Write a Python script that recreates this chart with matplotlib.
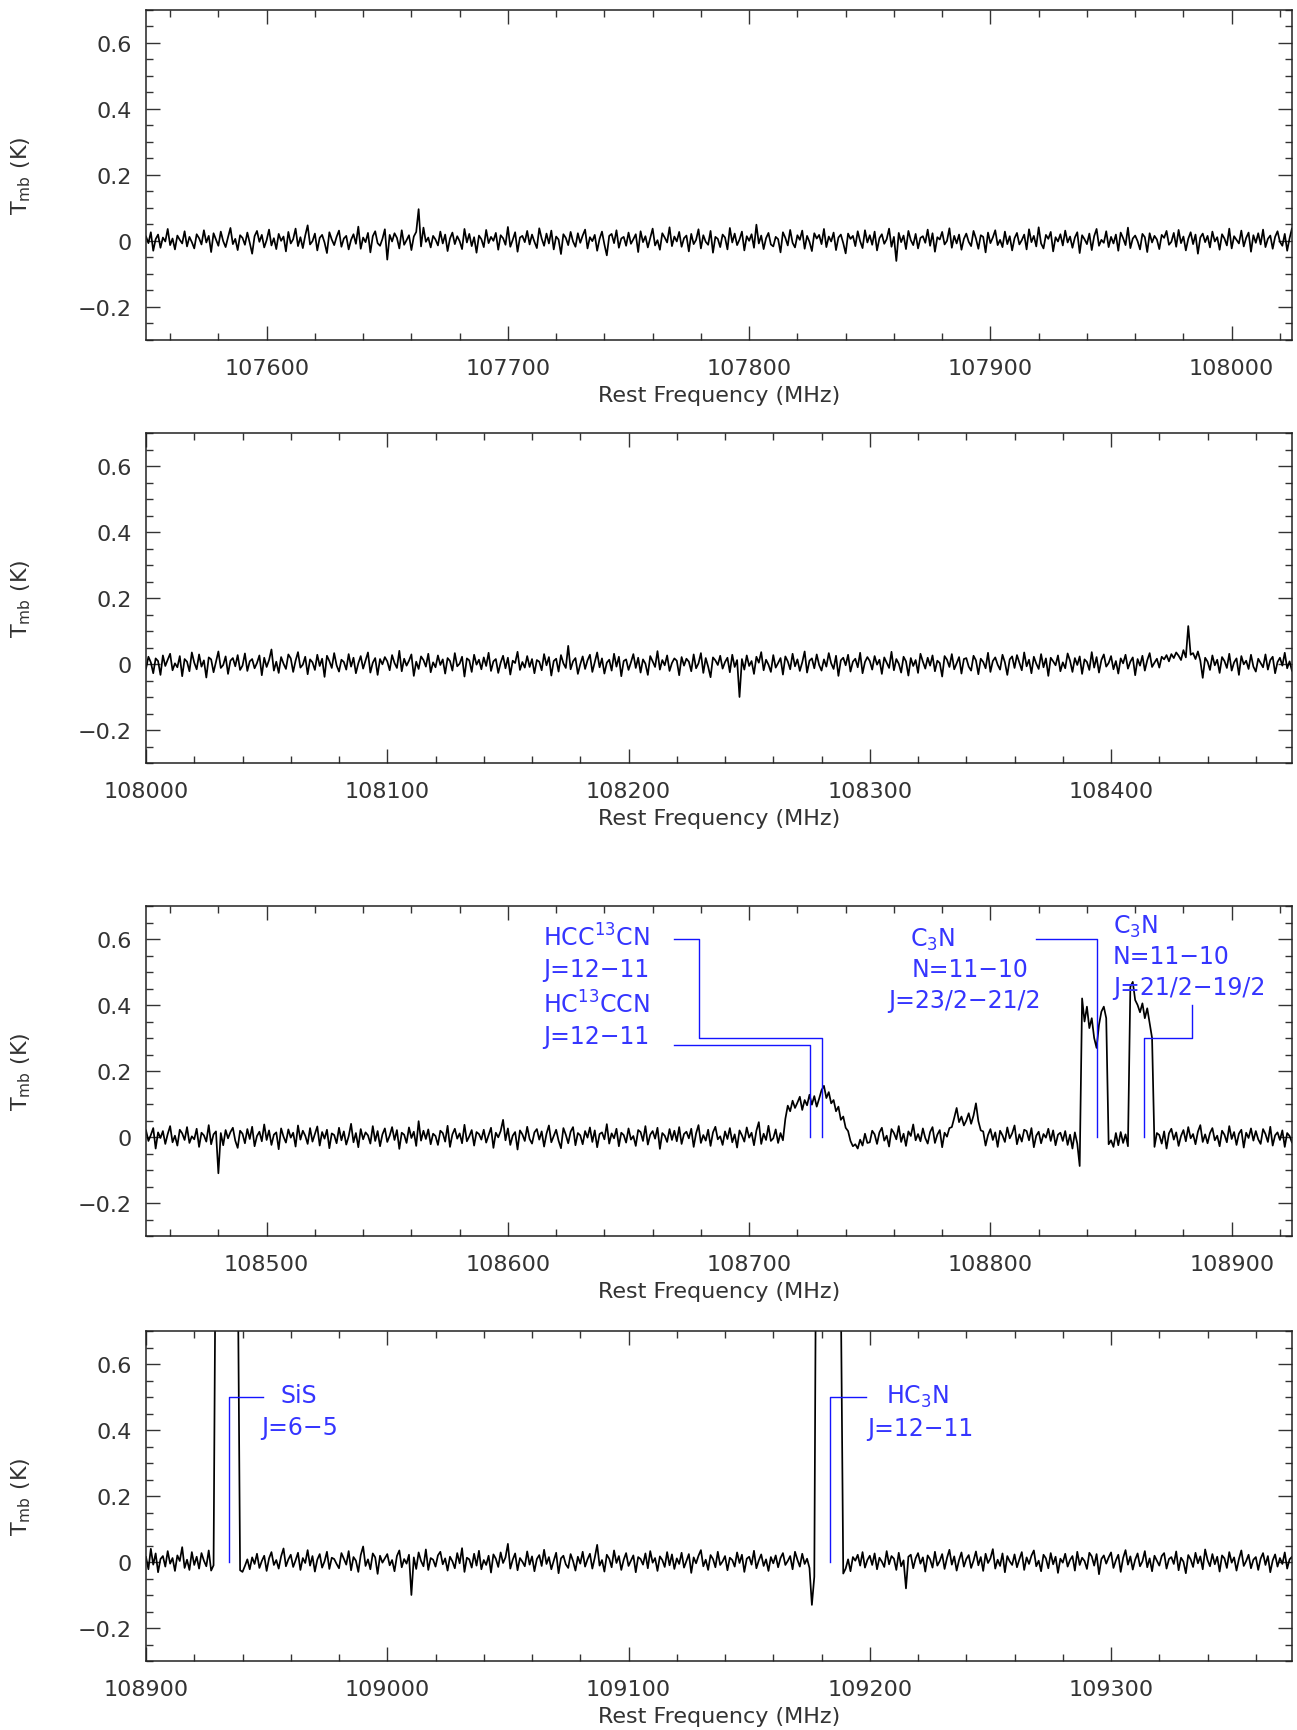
import numpy as np
import matplotlib
matplotlib.use('Agg')
import matplotlib.pyplot as plt
from matplotlib.ticker import MultipleLocator, FuncFormatter

# spectra in mK, one value per 1 MHz channel, starting at the left edge of each panel
start_freqs = [107550, 108000, 108450, 108900]

tmb_1 = [
    12, -8, 25, -31, 4, 18, -22, 9, -3, 35, -14, 6, -27, 15, 2, -9, 28, -18, 11, -5,
    -24, 19, 7, -12, 31, -6, 14, -35, 22, 3, -16, 27, -2, -20, 10, 38, -11, 5, -29, 16,
    8, -13, 24, -7, -40, 13, 29, -4, 17, -21, 1, 33, -15, 7, -26, 20, -1, 12, -33, 26,
    -9, 4, 36, -17, 10, -23, 15, 46, -12, -2, 21, -30, 8, 17, -6, -38, 25, 3, -14, 11,
    30, -19, 6, 14, -27, 2, 19, -10, 42, -25, 9, -5, 23, -36, 13, 28, -8, -16, 5, 34,
    -58, 17, -3, 22, 8, -24, 31, -13, 1, 16, -29, 12, 26, 95, -18, 39, -4, 9, -21, 14,
    3, -15, 27, -9, 18, -32, 6, 24, -11, 13, -2, -26, 35, -6, 20, -17, 10, -37, 15, 4,
    -20, 32, -8, 11, -1, 23, -28, 16, 7, -13, 41, -19, 2, 25, -34, 9, 14, -5, 29, -12,
    18, -4, -23, 37, 6, -16, 21, -9, 30, -27, 12, 3, -41, 19, 8, -14, 26, -3, -19, 22,
    -7, 15, 33, -24, 10, -2, 17, -31, 5, 27, -12, -45, 14, 20, -8, 31, -22, 6, 11, -16,
    24, -10, 4, 19, -35, 28, -5, 13, -21, 8, 36, -15, 1, -28, 22, 9, -6, 40, -17, 12,
    -3, 26, -19, 7, 15, -33, 20, -11, 2, 34, -24, 16, -4, -13, 29, -37, 11, 5, -20, 18,
    9, -27, 38, -6, 21, -14, 3, 27, -30, 13, -1, 19, -22, 48, -9, 15, -26, 7, 23, -12,
    -18, 11, 4, -36, 25, 8, -15, 32, -7, -21, 16, 2, 30, -25, 14, -4, -32, 22, 6, 17,
    -11, 35, -20, 12, -3, 24, -29, 9, 18, -8, -39, 21, 5, 14, -17, 28, -2, -23, 31, -6,
    16, -13, 27, -30, 7, 19, -10, 4, 36, -19, 11, -62, 23, -5, 15, -26, 29, 1, -14, 20,
    -24, 8, 13, -7, 33, -16, 22, -34, 10, 3, 26, -12, -1, 37, -22, 14, -9, 18, -28, 5,
    21, -4, -17, 29, 6, -25, 16, 11, -36, 24, -8, 9, 31, -14, 2, -20, 27, -11, 13, -30,
    7, 23, -12, 1, 18, -27, 34, -5, 14, -18, 40, -9, -24, 17, 5, 26, -33, 10, -3, 19,
    -15, 30, -6, 12, -22, 9, 25, -38, 16, 4, -11, 21, -29, 13, 35, -16, 2, -7, 28, -20,
    11, -9, 18, -31, 24, 7, -14, 39, -23, 6, 15, -2, -27, 20, 10, -35, 22, -6, 14, 3,
    -26, 17, 8, 29, -13, -4, 23, -19, 32, -8, 12, -30, 5, 25, -11, 18, -40, 9, 21, -5,
    14, -21, 27, -3, 10, -28, 19, 6, -15, 36, -24, 13, 2, -9, 30, -18, 8, 24, -34, 16,
    -7, 22, -12, 33, -20, 5, 15, -25, 11, 28, -4, -16, 20, -31, 7, 37, -13, 4, -22, 10,
]

tmb_2 = [
    -14, 22, 5, -28, 17, 9, -33, 26, -6, 13, 31, -19, 2, -10, 24, -37, 15, 7, -22, 35,
    4, -16, 29, -8, 11, -41, 20, 14, -25, 6, 38, -12, -3, 23, -30, 10, 18, -7, 27, -18,
    -5, 32, -21, 8, 15, -13, 3, 26, -34, 19, -9, 12, 44, -20, 7, -27, 21, 1, -15, 29,
    17, -24, 10, 36, -11, -2, 22, -31, 14, 5, -18, 28, -6, 16, -39, 25, 9, -12, 33, -4,
    -23, 13, 6, -17, 30, -8, 19, -28, 2, 24, -14, 11, 35, -26, 4, 18, -33, 15, -1, 21,
    8, -19, 27, 3, -12, 40, -22, 16, -5, 10, 29, -36, 7, -15, 23, 12, -8, 31, -25, 5,
    -10, 26, -3, 14, -29, 18, 9, -20, 33, -7, 1, 22, -38, 17, 11, -24, 28, -2, 13, -16,
    20, -6, 34, -21, 8, 15, -27, 4, 25, -13, 19, -32, 10, 3, 37, -18, 6, -11, 24, -9,
    15, -28, 12, 7, -19, 30, -4, 21, -35, 9, 16, -23, 27, 2, -12, 55, -16, 8, 18, -30,
    -1, 23, -15, 11, 28, -24, 6, 35, -10, 17, -29, 4, 13, -20, 31, -8, 22, -37, 9, 14,
    -18, 5, 30, -12, 19, -26, 14, 1, -33, 24, 8, -9, 39, -17, 12, -4, 26, -21, 3, 17,
    10, -34, 21, -5, 16, 7, -22, 29, -13, 2, 33, -27, 18, -8, -40, 20, 11, -3, 25, -14,
    6, 19, -25, 28, -9, 12, -100, 15, -17, 26, -6, 9, -30, 22, 4, 36, -19, 13, -2, -24,
    27, -11, 3, 18, -32, 23, 8, -16, 31, -7, 14, -21, 5, 38, -26, 10, 17, -13, 29, -3,
    -20, 14, -8, 33, 2, -15, 25, -36, 11, 19, -4, 28, -23, 7, 16, -10, 34, -28, 6, 21,
    9, -17, 24, -2, 13, -30, 20, 4, -12, 37, -19, 15, 1, -26, 22, 8, -35, 18, -6, 12,
    -27, 31, 7, -14, 19, -5, 26, -22, 10, 3, -38, 24, 13, -9, 30, -16, 2, 21, -29, 15,
    18, -8, -20, 25, 11, -31, 16, 6, -13, 34, -24, 9, 20, -2, -17, 28, 5, -33, 14, 23,
    -12, 27, 4, -19, 35, -7, 13, -28, 22, 1, -15, 30, -10, 17, -36, 19, 8, -4, 26, -22,
    5, -13, 32, 10, -24, 18, -3, 23, -30, 14, 6, -18, 36, -11, 21, -26, 12, 29, -8, 3,
    24, -16, 9, -29, 17, 2, 28, -14, 7, 20, -34, 15, -5, 25, -20, 11, 33, -9, 4, 16,
    -11, 22, 14, 27, 8, 30, 18, 35, 25, 12, 42, 20, 115, 28, 33, 15, 38, 10, -42, 19,
    7, -18, 26, -4, 13, -27, 21, 9, -12, 31, -20, 5, 17, -33, 24, -1, 10, -15, 28, -8,
    -23, 16, 3, -10, 29, -17, 12, 22, -28, 6, 19, -5, 34, -13, 8, -21, 25, -6, 14, 2,
]

tmb_3 = [
    20, -12, 6, 27, -35, 14, -3, 18, -21, 9, 33, -16, 4, -26, 22, 11, -9, 30, -18, 2,
    -7, 25, -30, 13, 5, -14, 36, -22, 8, 17, -110, 12, -25, 21, -4, 15, 28, -11, -33, 19,
    10, -19, 24, -6, 31, -28, 3, 16, -13, 38, -9, 20, -24, 7, 14, -37, 26, 1, -17, 23,
    -2, 13, -29, 35, -8, 19, 4, -21, 27, -14, 9, 32, -26, 15, -5, 22, -34, 11, 6, -19,
    28, -10, 17, -23, 2, 40, -16, 12, -31, 24, -7, 14, 5, -20, 33, -12, 18, -28, 8, 26,
    -15, 4, 30, -9, 21, -36, 13, 7, -18, 29, -3, 16, -27, 48, -11, 19, -6, 23, -22, 10,
    3, -24, 19, 12, -14, 34, -30, 8, 25, -5, 11, -19, 37, -13, 2, 21, -26, 15, 9, -8,
    22, -17, 6, 28, -33, 13, -1, 18, 52, -10, 26, -24, 4, 15, -38, 20, 8, -12, 31, -6,
    -20, 14, 24, -8, 17, -29, 10, 35, -16, 3, 22, -11, -34, 27, 7, -19, 16, 30, -25, 12,
    5, -22, 18, -2, 29, -15, 20, -31, 9, 14, -7, 39, -20, 11, -4, 25, -28, 13, 6, -17,
    26, -8, 3, -27, 21, 15, -12, 33, -23, 7, 18, -5, 28, -36, 12, 4, -15, 24, -9, 19,
    -13, 30, -21, 9, 16, -4, 25, -30, 11, 36, -18, 6, -11, 22, -27, 14, 31, -7, 2, -24,
    17, -6, 27, -16, 8, -32, 20, 5, -14, 29, -2, 13, -25, 19, 45, -21, 10, -9, 34, -12,
    -4, 23, -18, 12, -10, 55, 95, 78, 110, 88, 104, 122, 82, 112, 96, 128, 98, 124, 92, 116,
    142, 155, 118, 136, 102, 112, 78, 92, 52, 62, 28, 18, -12, -28, -22, -35, -8, -26, 10, -18,
    -16, 19, 8, -21, 14, 28, -11, 4, -29, 24, 12, -7, 33, -15, 10, -27, 17, 3, 38, -10,
    9, -13, 26, -3, -20, 15, 30, -18, 7, 21, -31, 13, 1, 27, 30, 58, 88, 45, 62, 35,
    50, 72, 40, 65, 102, 48, 20, 17, -26, 6, 24, -9, 14, -30, 19, 5, -15, 29, -4, 11,
    35, -22, 8, -14, 22, 18, -10, 27, -31, 4, 16, -19, 9, -2, 25, -12, 20, -25, 7, 13,
    -12, 18, -24, 7, -35, 14, -20, -88, 420, 350, 395, 330, 360, 300, 270, 340, 380, 395, 360, -22,
    -10, -30, 12, -25, 15, -18, 8, -28, 455, 470, 415, 400, 378, 405, 360, 390, 345, 300, -30, 12,
    6, -20, 17, -35, 11, 25, -8, 14, -27, 3, 21, -13, 30, -4, 9, -22, 16, 36, -15, 8,
    -19, 12, 27, -10, 4, -28, 19, 7, -16, 33, -6, 15, -24, 10, 22, -32, 13, -3, 26, -11,
    18, -7, -21, 24, 9, -15, 31, -26, 5, 14, -9, 20, -30, 12, 3, -17, 25, -5, 11, -14,
]

tmb_4 = [
    15, -22, 40, -8, 26, -31, 9, 18, -14, 33, -5, 12, -27, 20, 3, 45, -18, 7, -24, 30,
    -9, 16, -20, 27, 4, -13, 35, -26, -10, 1150, 1850, 2300, 2550, 2650, 2600, 2450, 2150, 1650, 950, -25,
    -30, -12, 8, -22, 14, -6, 25, -18, 3, 19, -27, 11, 30, -9, 6, -20, 17, 41, -13, 8,
    22, -15, 5, 28, -24, 12, -3, 36, -11, 18, -29, 7, 24, -17, 2, 31, -21, 13, 9, -6,
    -19, 27, 10, -8, 33, -25, 15, 4, -30, 21, 47, -12, 8, -22, 26, 14, -36, 19, -2, 11,
    24, -10, 6, -28, 18, 35, -16, 9, -5, 22, -100, 14, -21, 29, 3, -13, 38, -24, 12, 7,
    -14, 20, 31, -7, 11, -26, 16, 2, -19, 27, -4, 42, -30, 13, 8, -17, 25, -11, 34, -22,
    6, -9, 19, -32, 23, 10, -15, 29, -3, 14, 55, -20, 7, 26, -25, 12, 1, -13, 32, -8,
    17, -28, 9, 21, -12, 37, -6, 15, -22, 4, 28, -34, 11, 19, -7, -18, 24, 3, -26, 16,
    -5, 31, -14, 8, 25, -20, 13, 52, -11, 6, -29, 22, 10, -16, 35, -3, 18, -24, 7, 27,
    -12, 4, 20, -31, 15, 9, -8, 26, -19, 33, -2, 12, -27, 17, 6, -15, 30, -10, 23, -21,
    11, -6, 28, -17, 3, 24, -33, 14, -4, 19, 36, -13, 7, -24, 21, 9, -16, 31, -9, 2,
    18, -25, 13, 6, -14, 29, -3, 22, -30, 10, 16, -8, 34, -19, 5, 23, -12, 8, -27, 15,
    -4, 20, -16, 12, 27, -9, 3, 18, -22, 31, 7, -14, 25, -6, 10, -18, -130, -45, 1400, 2100,
    2500, 2700, 2800, 2750, 2600, 2350, 2000, 1500, 820, -35, -20, 8, -28, 15, 4, 22, -11, 30, -17, 6,
    19, -9, 26, -22, 13, 1, -15, 33, -7, 18, 10, -24, 28, -13, 5, -80, 16, 22, -19, 11,
    27, -5, 14, -29, 20, 8, -17, 31, -11, 3, 24, -21, 12, 37, -8, 17, -26, 6, 29, -14,
    9, 21, -18, 4, 32, -10, 15, -27, 25, -3, 11, 39, -20, 7, -12, 26, -31, 18, 2, -9,
    23, -16, 8, 30, -24, 14, -6, 19, 35, -13, 4, -28, 22, 11, -19, 27, -7, 16, -33, 10,
    -2, 25, -14, 6, 18, -26, 31, -9, 13, 3, -21, 28, 17, -11, 24, -37, 9, 20, -5, 14,
    29, -18, 5, 22, -30, 12, 36, -8, 17, -23, 7, 26, -13, 2, 33, -16, 11, -28, 19, 4,
    -11, 18, 27, -20, 9, 15, -6, 32, -25, 13, 1, -34, 21, 8, -15, 28, -4, 17, -22, 38,
    6, -13, 24, -7, 16, -29, 20, 11, -18, 30, -2, 14, -26, 9, 35, -12, 3, 22, -19, 7,
    15, -24, 10, 27, -9, 18, -31, 5, 23, -14, 12, -6, 29, -20, 8, 16, -11, 25, 2, -17,
]

spectra = [tmb_1, tmb_2, tmb_3, tmb_4]

# line identifications: (text, freq, T, alignment) per panel
labels = {
    2: [('HCC$^{13}$CN', 108614.5, 0.580, 'left'),
        ('J=12−11', 108614.5, 0.487, 'left'),
        ('HC$^{13}$CCN', 108614.5, 0.378, 'left'),
        ('J=12−11', 108614.5, 0.285, 'left'),
        ('C$_3$N', 108766.6, 0.580, 'left'),
        ('N=11−10', 108767.4, 0.487, 'left'),
        ('J=23/2−21/2', 108757.5, 0.395, 'left'),
        ('C$_3$N', 108850.7, 0.620, 'left'),
        ('N=11−10', 108850.7, 0.527, 'left'),
        ('J=21/2−19/2', 108850.7, 0.433, 'left')],
    3: [('SiS', 108963.4, 0.484, 'center'),
        ('J=6−5', 108963.7, 0.388, 'center'),
        ('HC$_3$N', 109219.9, 0.481, 'center'),
        ('J=12−11', 109221.0, 0.385, 'center')],
}

# leader lines from labels to the line frequencies
leaders = {
    2: [([108668.8, 108679.2, 108679.2, 108730.0, 108730.0], [0.60, 0.60, 0.30, 0.30, 0.0]),
        ([108668.8, 108725.2, 108725.2], [0.28, 0.28, 0.0]),
        ([108818.8, 108844.0, 108844.0], [0.60, 0.60, 0.0]),
        ([108883.7, 108883.7, 108863.7, 108863.7], [0.40, 0.30, 0.30, 0.0])],
    3: [([108948.6, 108934.4, 108934.4], [0.50, 0.50, 0.0]),
        ([109198.6, 109183.5, 109183.5], [0.50, 0.50, 0.0])],
}

W, H = 1297, 1731
panel_bottoms = [340.5, 764, 1237, 1662]
left_px, width_px, height_px = 146, 1146, 330

txt_col = '#333333'
blue_txt = '#3535ff'
blue_line = '#1414ff'

fig = plt.figure(figsize=(W / 100, H / 100), dpi=100)


def yfmt(v, pos):
    if abs(v) < 1e-9:
        return '0'
    return f'{v:.1f}'.replace('-', '−')


for k in range(4):
    ax = fig.add_axes([left_px / W, 1 - panel_bottoms[k] / H, width_px / W, height_px / H])
    vals = np.array(spectra[k]) / 1000.0
    freq = start_freqs[k] + np.arange(len(vals)) * 1.0
    ax.plot(freq, vals, color='black', lw=1.25)

    ax.set_xlim(start_freqs[k], start_freqs[k] + 475)
    ax.set_ylim(-0.3, 0.7)
    ax.xaxis.set_major_locator(MultipleLocator(100))
    ax.xaxis.set_minor_locator(MultipleLocator(20))
    ax.yaxis.set_major_locator(MultipleLocator(0.2))
    ax.yaxis.set_minor_locator(MultipleLocator(0.05))
    ax.xaxis.set_major_formatter(FuncFormatter(lambda v, p: f'{v:.0f}'))
    ax.yaxis.set_major_formatter(FuncFormatter(yfmt))
    ax.tick_params(which='both', direction='in', top=True, right=True,
                   color='#333333', width=1.0, labelsize=16, labelcolor=txt_col)
    ax.tick_params(which='major', length=10)
    ax.tick_params(which='minor', length=5)
    ax.tick_params(axis='x', pad=13)
    ax.tick_params(axis='y', pad=10)
    for s in ax.spines.values():
        s.set_color('#222222')
        s.set_linewidth(1.1)

    ax.set_xlabel('Rest Frequency (MHz)', fontsize=16, color=txt_col, labelpad=5)
    ax.set_ylabel(r'T$_{\rm mb}$ (K)', fontsize=16, color=txt_col)
    ax.yaxis.set_label_coords(-0.0986, 0.5)

    for xs, ys in leaders.get(k, []):
        ax.plot(xs, ys, color=blue_line, lw=1.0)
    for text, fx, ty, ha in labels.get(k, []):
        ax.text(fx, ty, text, color=blue_txt, fontsize=17, ha=ha, va='baseline')

fig.savefig('out.png', dpi=100)
